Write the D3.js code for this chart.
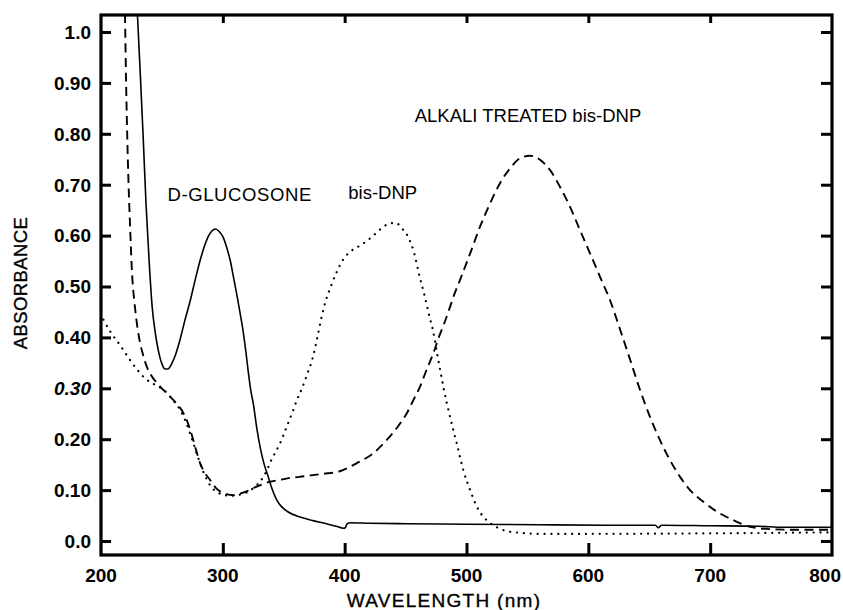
<!DOCTYPE html>
<html>
<head>
<meta charset="utf-8">
<script src="https://cdn.jsdelivr.net/npm/d3@7"></script>
<style>
  html, body { margin: 0; padding: 0; background: #fff; }
  svg { display: block; }
  text { font-family: "Liberation Sans", Arial, Helvetica, sans-serif; fill: #000; }
</style>
</head>
<body>
<svg id="chart" width="843" height="610"></svg>
<script>
// ---- data ----
const xTicks = [200, 300, 400, 500, 600, 700, 800];
const yTicks = [0.0, 0.1, 0.2, 0.3, 0.4, 0.5, 0.6, 0.7, 0.8, 0.9, 1.0];
const yTickLabels = ["0.0", "0.10", "0.20", "0.30", "0.40", "0.50", "0.60", "0.70", "0.80", "0.90", "1.0"];

// D-GLUCOSONE (solid)
const glucosone = [
  [228.5, 1.12], [230, 1.03], [232, 0.93], [234.5, 0.80], [237, 0.66], [239.5, 0.55],
  [242, 0.46], [244.5, 0.41], [247, 0.375], [250, 0.348], [252.5, 0.338], [255, 0.338],
  [258, 0.348], [261, 0.365], [264.8, 0.395], [269, 0.435], [273, 0.47], [277, 0.51],
  [281, 0.548], [285, 0.58], [288, 0.598], [291, 0.609], [294, 0.613], [297, 0.608],
  [300.4, 0.596], [303, 0.578], [306, 0.552], [309, 0.515], [311.4, 0.485], [314, 0.45],
  [316.8, 0.41], [319, 0.37], [321, 0.33], [323, 0.295], [325, 0.27], [328, 0.22],
  [331, 0.18], [334, 0.15], [337.3, 0.126], [340, 0.105], [344.2, 0.081], [348, 0.068],
  [353, 0.058], [363.4, 0.047], [374, 0.04], [385, 0.034], [393, 0.029], [399, 0.025],
  [400.5, 0.026], [402, 0.034], [405, 0.036], [420, 0.035], [450, 0.034], [500, 0.033],
  [560, 0.032], [620, 0.031], [655, 0.031], [657.5, 0.026], [660, 0.031], [700, 0.030],
  [740, 0.029], [760, 0.027], [800, 0.027]
];

// bis-DNP (dotted)
const bisDNP = [
  [202, 0.435], [208, 0.41], [215, 0.387], [222, 0.362], [228, 0.342], [236, 0.32],
  [245, 0.306], [252, 0.296], [258, 0.28], [265, 0.257], [270, 0.232], [275, 0.198],
  [280, 0.162], [285, 0.13], [290, 0.108], [296, 0.095], [302, 0.09], [308, 0.089],
  [314, 0.091], [320, 0.096], [326, 0.106], [331, 0.118], [336, 0.138], [340, 0.16],
  [344, 0.178], [347, 0.192], [352, 0.222], [357, 0.252], [361, 0.278], [365, 0.3],
  [369, 0.326], [374, 0.362], [378, 0.405], [381, 0.44], [385, 0.476], [389, 0.502],
  [393, 0.526], [399, 0.554], [406, 0.571], [413, 0.581], [419, 0.591], [424, 0.601],
  [429, 0.612], [436, 0.623], [442, 0.625], [447, 0.614], [452, 0.598], [457, 0.566],
  [461.5, 0.52], [465.5, 0.483], [469, 0.447], [472.8, 0.41], [476, 0.367], [481, 0.303],
  [486.5, 0.244], [492, 0.192], [497.4, 0.139], [503, 0.1], [508, 0.07], [513, 0.05],
  [517, 0.04], [525, 0.027], [532, 0.02], [545, 0.016], [560, 0.014], [600, 0.014],
  [700, 0.015], [800, 0.017]
];

// ALKALI TREATED bis-DNP (dashed)
const alkali = [
  [218.8, 1.12], [219.7, 1.03], [220.6, 0.9], [221.5, 0.8], [222.5, 0.71], [224, 0.61],
  [225.5, 0.525], [227.5, 0.468], [230, 0.418], [232, 0.39], [234.5, 0.366], [237.5, 0.343],
  [241, 0.326], [246, 0.31], [254, 0.29], [262, 0.27], [267, 0.254], [270.3, 0.238],
  [273, 0.22], [275.8, 0.198], [278.5, 0.175], [281.3, 0.153], [285, 0.135], [289.5, 0.12],
  [294, 0.105], [298, 0.097], [303, 0.092], [308.6, 0.09], [314, 0.093], [320, 0.098],
  [325, 0.104], [331, 0.11], [338, 0.116], [347, 0.12], [355, 0.124], [363, 0.126],
  [372, 0.129], [382.5, 0.132], [396, 0.137], [403, 0.144], [410, 0.153], [417, 0.162],
  [423.5, 0.172], [430, 0.187], [437, 0.205], [444, 0.226], [451, 0.251], [456, 0.275],
  [461.8, 0.303], [467, 0.335], [472.8, 0.369], [478, 0.405], [481, 0.423], [486.5, 0.46],
  [489, 0.478], [494.7, 0.513], [503, 0.565], [511, 0.617], [519.3, 0.663], [527.5, 0.703],
  [535.7, 0.732], [543.9, 0.752], [552, 0.757], [560.3, 0.749], [568.5, 0.729],
  [576.7, 0.696], [584.9, 0.657], [593.1, 0.611], [601.4, 0.565], [609.6, 0.519],
  [617.8, 0.473], [626, 0.416], [634.2, 0.357], [642.4, 0.297], [650.6, 0.244],
  [658.8, 0.198], [667, 0.159], [675.3, 0.126], [683.5, 0.1], [694.4, 0.077],
  [705.4, 0.058], [719, 0.041], [732.7, 0.028], [751.8, 0.023], [775, 0.022], [800, 0.022]
];

const labels = [
  { text: "D-GLUCOSONE", x: 254.6, y: 0.667 },
  { text: "bis-DNP", x: 403, y: 0.672 },
  { text: "ALKALI TREATED bis-DNP", x: 457.5, y: 0.824 }
];

// ---- layout ----
const plot = { left: 101, top: 15, right: 832, bottom: 555 };
const svg = d3.select("#chart");

const x = d3.scaleLinear().domain([200, 800]).range([plot.left, plot.right]);
const y = d3.scaleLinear().domain([-0.0275, 1.0334]).range([plot.bottom, plot.top]);

svg.append("defs").append("clipPath").attr("id", "clip")
  .append("rect")
  .attr("x", plot.left).attr("y", plot.top)
  .attr("width", plot.right - plot.left).attr("height", plot.bottom - plot.top);

// curves
const line = d3.line().x(d => x(d[0])).y(d => y(d[1])).curve(d3.curveMonotoneX);
const g = svg.append("g").attr("clip-path", "url(#clip)");

g.append("path").datum(glucosone).attr("d", line)
  .attr("fill", "none").attr("stroke", "#000").attr("stroke-width", 1.6);

g.append("path").datum(bisDNP).attr("d", line)
  .attr("fill", "none").attr("stroke", "#000").attr("stroke-width", 2.2)
  .attr("stroke-linecap", "round")
  .attr("stroke-dasharray", "0.1,6.8");

g.append("path").datum(alkali).attr("d", line)
  .attr("fill", "none").attr("stroke", "#000").attr("stroke-width", 1.9)
  .attr("stroke-dasharray", "9,5.5");

// axes (ticks inward)
const axL = svg.append("g").attr("transform", `translate(${plot.left},0)`)
  .call(d3.axisRight(y).tickValues(yTicks).tickSize(10).tickFormat(""));
const axR = svg.append("g").attr("transform", `translate(${plot.right},0)`)
  .call(d3.axisLeft(y).tickValues(yTicks).tickSize(11).tickFormat(""));
const axB = svg.append("g").attr("transform", `translate(0,${plot.bottom})`)
  .call(d3.axisTop(x).tickValues(xTicks.slice(1, -1)).tickSize(12).tickFormat(""));
const axT = svg.append("g").attr("transform", `translate(0,${plot.top})`)
  .call(d3.axisBottom(x).tickValues(xTicks.slice(1, -1)).tickSize(8).tickFormat(""));
[axL, axR, axB, axT].forEach(a => {
  a.select(".domain").remove();
  a.selectAll(".tick line").attr("stroke", "#000").attr("stroke-width", 3);
});

// frame
svg.append("rect")
  .attr("x", plot.left).attr("y", plot.top)
  .attr("width", plot.right - plot.left).attr("height", plot.bottom - plot.top)
  .attr("fill", "none").attr("stroke", "#000").attr("stroke-width", 3.2);

// tick labels
svg.append("g").selectAll("text").data(yTicks).join("text")
  .attr("x", 91).attr("y", d => y(d)).attr("dy", "0.36em")
  .attr("text-anchor", "end")
  .attr("font-size", 19).attr("font-weight", "bold")
  .attr("font-style", (d, i) => yTickLabels[i] === "0.30" ? "italic" : "normal")
  .text((d, i) => yTickLabels[i]);

svg.append("g").selectAll("text").data(xTicks).join("text")
  .attr("x", (d, i) => i === xTicks.length - 1 ? 841 : x(d)).attr("y", 581.5)
  .attr("text-anchor", (d, i) => i === xTicks.length - 1 ? "end" : "middle")
  .attr("font-size", 19).attr("font-weight", "bold")
  .text(d => d);

// axis titles
svg.append("text")
  .attr("transform", "translate(27,283) rotate(-90)")
  .attr("text-anchor", "middle")
  .attr("font-size", 18.5).attr("letter-spacing", 0.4)
  .attr("stroke", "#000").attr("stroke-width", 0.35)
  .text("ABSORBANCE");

svg.append("text")
  .attr("x", 444).attr("y", 607)
  .attr("text-anchor", "middle")
  .attr("font-size", 19).attr("letter-spacing", 1.3)
  .attr("stroke", "#000").attr("stroke-width", 0.35)
  .text("WAVELENGTH (nm)");

// curve labels
svg.append("g").selectAll("text").data(labels).join("text")
  .attr("x", d => x(d.x)).attr("y", d => y(d.y))
  .attr("text-anchor", "start")
  .attr("font-size", 18.5)
  .attr("letter-spacing", d => d.text === "D-GLUCOSONE" ? 0.6 : 0)
  .text(d => d.text);
</script>
</body>
</html>
